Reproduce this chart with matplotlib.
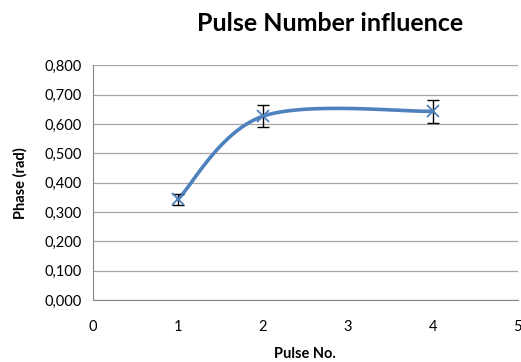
import numpy as np
import matplotlib
matplotlib.use('Agg')
import matplotlib.pyplot as plt
from matplotlib.ticker import FuncFormatter

pulse_no = [1, 2, 4]
phase = [0.343, 0.626, 0.643]
phase_err = [0.018, 0.037, 0.040]


def smooth(x, y, n=60):
    # Catmull-Rom style bezier smoothing through the points
    x = np.asarray(x, float); y = np.asarray(y, float)
    px = np.concatenate([[x[0]], x, [x[-1]]]); py = np.concatenate([[y[0]], y, [y[-1]]])
    xs, ys = [], []
    for i in range(1, len(px) - 2):
        p0 = np.array([px[i], py[i]]); p3 = np.array([px[i + 1], py[i + 1]])
        p1 = p0 + (np.array([px[i + 1], py[i + 1]]) - np.array([px[i - 1], py[i - 1]])) / 6
        p2 = p3 - (np.array([px[i + 2], py[i + 2]]) - np.array([px[i], py[i]])) / 6
        t = np.linspace(0, 1, n)[:, None]
        b = (1 - t) ** 3 * p0 + 3 * (1 - t) ** 2 * t * p1 + 3 * (1 - t) * t ** 2 * p2 + t ** 3 * p3
        xs.extend(b[:, 0]); ys.extend(b[:, 1])
    return np.array(xs), np.array(ys)


plt.rcParams['font.family'] = ['Lato', 'DejaVu Sans']
fig = plt.figure(figsize=(5.21, 3.62), dpi=100)
ax = fig.add_axes([0.1785, 0.171, 0.815, 0.649])

# smooth in display-ish scale so the curve shape follows the screen aspect
sx, sy = 85.0, 293.75
cx, cy = smooth(np.array(pulse_no) * sx, np.array(phase) * sy)
ax.plot(cx / sx, cy / sy, color='#4F81BD', lw=2.6, solid_capstyle='round', zorder=3)
ax.errorbar(pulse_no, phase, yerr=phase_err, fmt='none', ecolor='black', elinewidth=1.0,
            capsize=4, capthick=1.0, zorder=4)
ax.plot(pulse_no, phase, ls='none', marker='x', ms=9, mew=1.3, color='#4F81BD', zorder=5)

ax.set_xlim(0, 5)
ax.set_ylim(0, 0.8)
ax.set_xticks(range(6))
ax.set_yticks(np.arange(0, 0.81, 0.1))
ax.yaxis.set_major_formatter(FuncFormatter(lambda v, p: f'{v:.3f}'.replace('.', ',')))
ax.grid(axis='y', color='#A6A6A6', lw=0.9)
ax.set_axisbelow(True)
for s in ['top', 'right']:
    ax.spines[s].set_visible(False)
for s in ['left', 'bottom']:
    ax.spines[s].set_color('#868686')
ax.tick_params(axis='both', length=0, labelsize=10.5, colors='black', pad=8)
ax.tick_params(axis='x', pad=14)

ax.set_xlabel('Pulse No.', fontsize=10.5, fontweight='bold', labelpad=10)
ax.set_ylabel('Phase (rad)', fontsize=10.5, fontweight='bold', labelpad=12)
fig.text(0.633, 0.935, 'Pulse Number influence', ha='center', va='center',
         fontsize=18, fontweight='bold')

fig.savefig('out.png', dpi=100)
